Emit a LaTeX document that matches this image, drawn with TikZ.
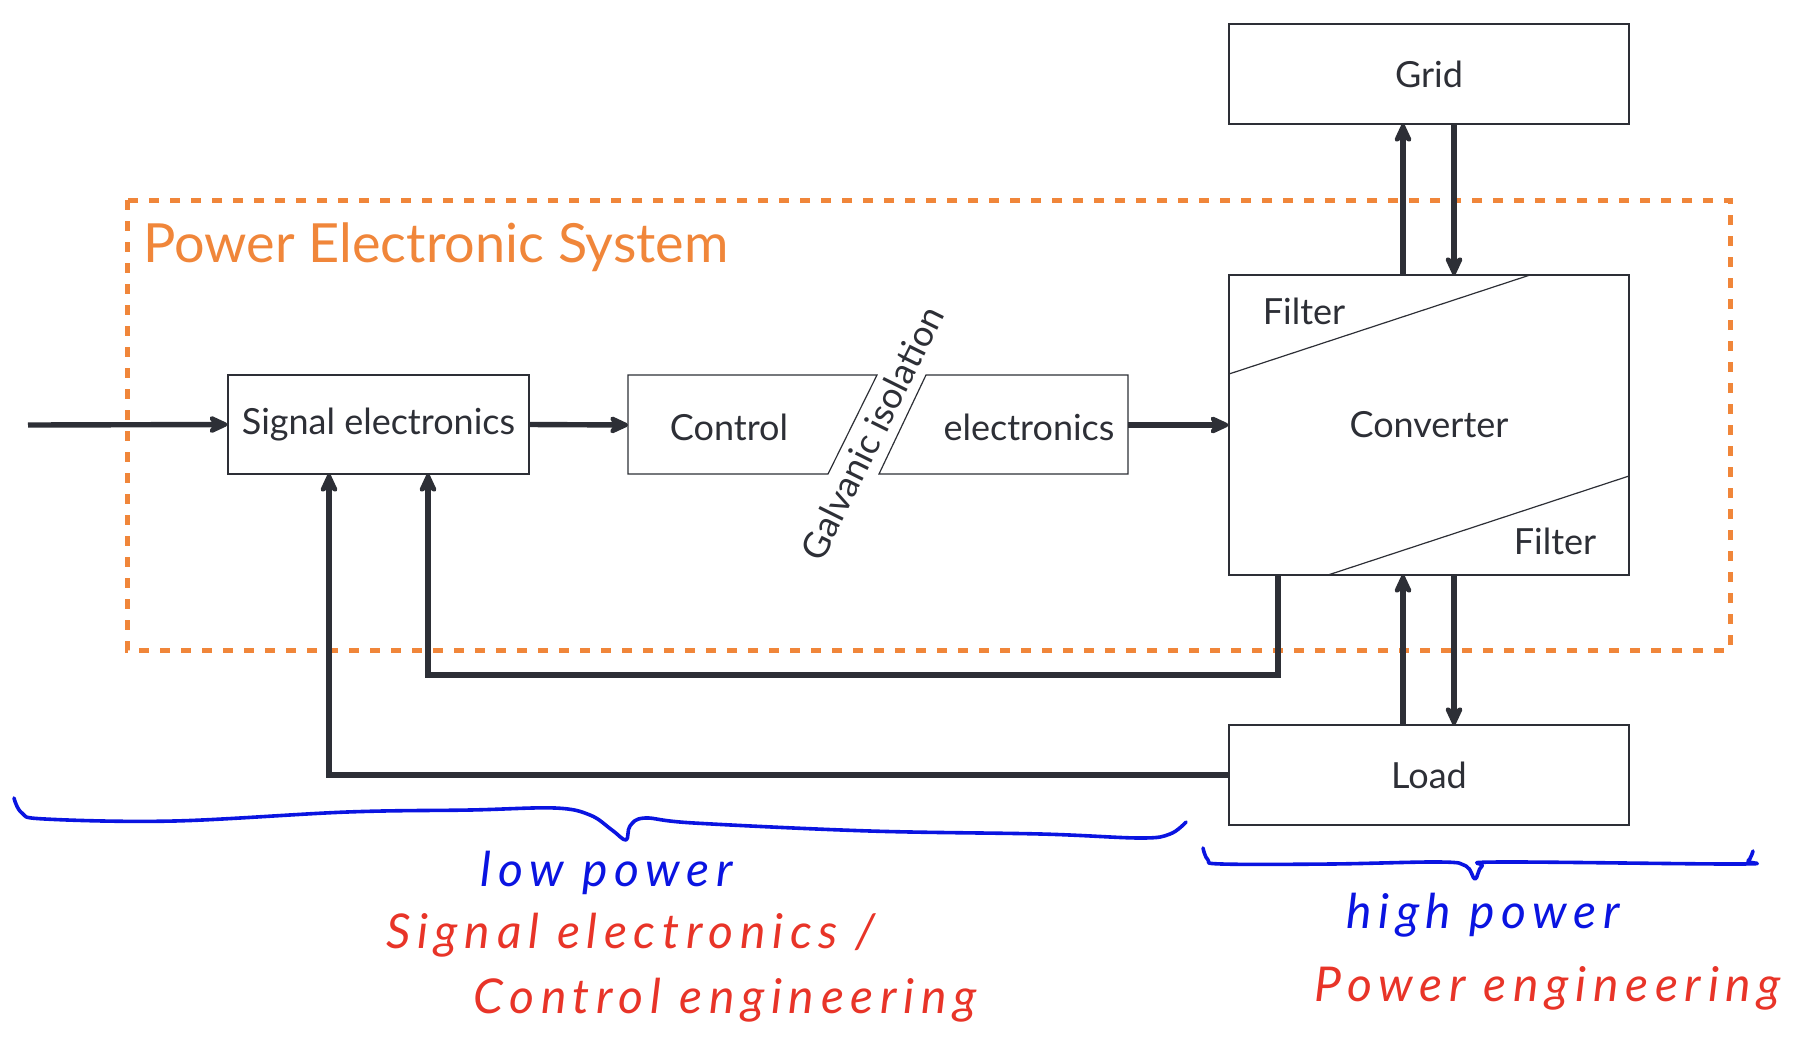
\documentclass[tikz,border=0pt]{standalone}
\usepackage{fontspec}
\setmainfont{Lato}
\usetikzlibrary{arrows.meta,calc}
\definecolor{ink}{RGB}{45,47,54}
\definecolor{peso}{RGB}{240,134,58}
\definecolor{hblue}{RGB}{10,20,225}
\definecolor{hred}{RGB}{232,52,40}
\begin{document}
\begin{tikzpicture}[x=0.5pt,y=-0.5pt,
  blk/.style={draw=ink, line width=0.6pt, rectangle, minimum width=200pt, minimum height=50pt, inner sep=0pt, text=ink, font=\fontsize{18}{21}\selectfont},
  txt/.style={inner sep=0pt, text=ink, font=\fontsize{18}{21}\selectfont},
  thinline/.style={draw=ink, line width=0.6pt},
  conn/.style={draw=ink, line width=2.7pt, -{Stealth[length=12pt,width=11pt,inset=3.5pt,round]}},
  brace/.style={draw=hblue, line width=1.8pt, line cap=round, line join=round},
  hand/.style={inner sep=0pt, font=\fontsize{24}{28}\selectfont\itshape\addfontfeature{LetterSpace=14}}]
\useasboundingbox (0,0) rectangle (1814,1050);
% dashed system frame
\draw[peso, line width=2.5pt, dash pattern=on 5pt off 5.5pt] (127,200) rectangle (1730,650);
\node[anchor=base west, text=peso, font=\fontsize{27}{32}\selectfont, inner sep=0pt] (title) at (143,262) {Power Electronic System};
% blocks
\node[blk, minimum width=150.5pt, minimum height=49.5pt] (sig) at (378.5,424.5) {Signal electronics};
\node[blk] (grid) at (1429,74) {Grid};
\node[blk, minimum height=150pt] (conv) at (1429,425) {Converter};
\node[blk] (load) at (1429,775) {Load};
\draw[thinline] (628,375) -- (877,375) -- (828,474) -- (628,474) -- cycle;
\draw[thinline] (926,375) -- (1128,375) -- (1128,474) -- (879,474) -- cycle;
\node[txt] (ctrl) at (729,427) {Control};
\node[txt] (elec) at (1029,427) {electronics};
\node[txt, rotate=63.6] (gal) at (872,433) {Galvanic isolation};
\draw[thinline] (1229,374) -- (1530,275);
\draw[thinline] (1328,575) -- (1629,476);
\node[txt] (f1) at (1304,311) {Filter};
\node[txt] (f2) at (1555,541) {Filter};
% coordinates
\coordinate (in) at (28,425);
\coordinate (ctrlW) at (628,425);
\coordinate (elecE) at (1128,425);
\coordinate (cu) at (1403,275);
\coordinate (cd) at (1454,275);
\coordinate (gu) at (1403,124);
\coordinate (gd) at (1454,124);
\coordinate (cbu) at (1403,575);
\coordinate (cbd) at (1454,575);
\coordinate (lu) at (1403,725);
\coordinate (ld) at (1454,725);
\coordinate (cfb) at (1278,575);
\coordinate (fbA) at (1278,675);
\coordinate (fbB) at (428,675);
\coordinate (sfb1) at (428,474);
\coordinate (fbC) at (329,775);
\coordinate (sfb2) at (329,474);
% connectors
\draw[conn] (in) -- (sig.west);
\draw[conn] (sig.east) -- (ctrlW);
\draw[conn] (elecE) -- (conv.west);
\draw[conn] (cu) -- (gu);
\draw[conn] (gd) -- (cd);
\draw[conn] (lu) -- (cbu);
\draw[conn] (cbd) -- (ld);
\draw[conn] (cfb) -- (fbA) -- (fbB) -- (sfb1);
\draw[conn] (load.west) -- (fbC) -- (sfb2);
% handwritten annotations
\draw[brace] plot[smooth, tension=0.6] coordinates {(14,798) (22,813) (45,819) (174,821) (347,812) (470,810) (555,808) (590,815) (612,830) (626,840) (630,826) (645,818) (694,823) (870,831) (1041,834) (1140,838) (1170,834) (1186,822)};
\draw[brace] plot[smooth, tension=0.6] coordinates {(1203,848) (1208,860) (1222,864) (1331,864) (1440,862) (1466,866) (1475,879) (1482,866) (1500,862) (1736,864) (1748,861) (1753,851)};
\node[hand, text=hblue] (lp) at (607,873) {low power};
\node[hand, text=hred] (se) at (631,935) {Signal electronics /};
\node[hand, text=hred] (ce) at (725,1000) {Control engineering};
\node[hand, text=hblue] (hp) at (1483,915) {high power};
\node[hand, text=hred] (pe) at (1548,988) {Power engineering};
\end{tikzpicture}
\end{document}
